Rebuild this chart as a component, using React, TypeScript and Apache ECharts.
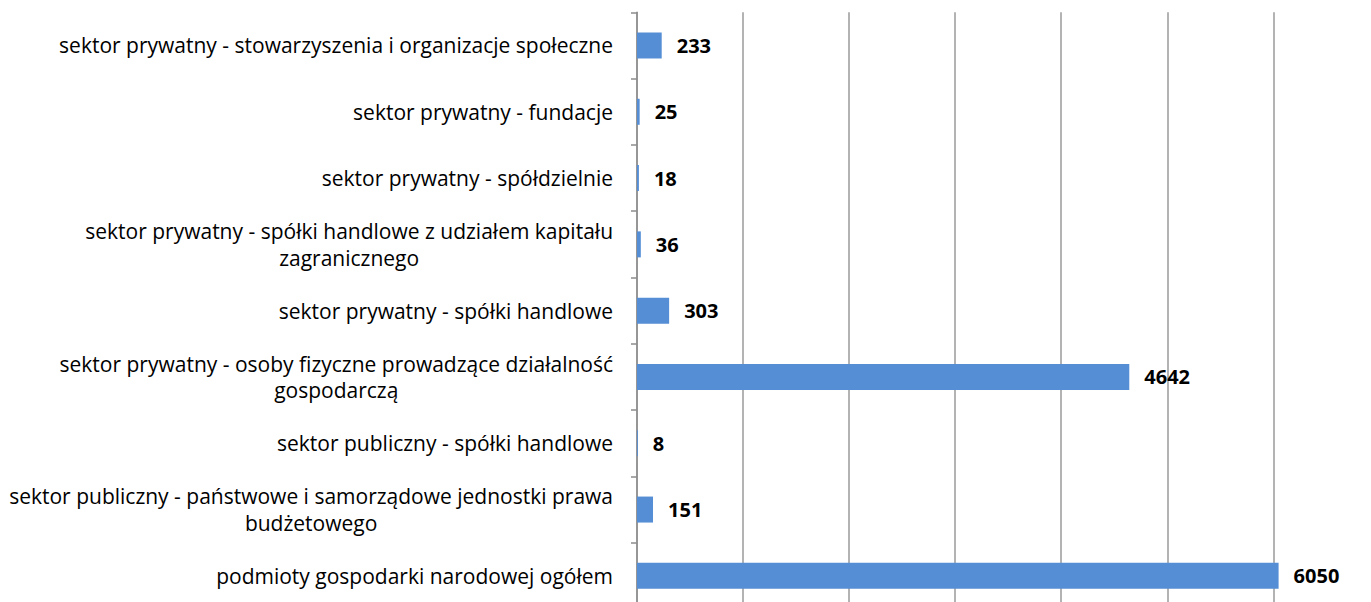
import React, { useEffect, useRef } from "react";
import * as echarts from "echarts";

const categories: string[] = [
  "sektor prywatny - stowarzyszenia i organizacje społeczne",
  "sektor prywatny - fundacje",
  "sektor prywatny - spółdzielnie",
  "sektor prywatny - spółki handlowe z udziałem kapitału\nzagranicznego",
  "sektor prywatny - spółki handlowe",
  "sektor prywatny - osoby fizyczne prowadzące działalność\ngospodarczą",
  "sektor publiczny - spółki handlowe",
  "sektor publiczny - państwowe i samorządowe jednostki prawa\nbudżetowego",
  "podmioty gospodarki narodowej ogółem",
];
const values: number[] = [233, 25, 18, 36, 303, 4642, 8, 151, 6050];

const FONT = "'Open Sans', Lato, sans-serif";

export default function App() {
  const ref = useRef<HTMLDivElement>(null);
  useEffect(() => {
    if (!ref.current) return;
    const chart = echarts.init(ref.current, undefined, { renderer: "svg" });
    chart.setOption({
      animation: false,
      backgroundColor: "#ffffff",
      grid: { left: 637, right: 97.7, top: 12.35, bottom: 11, containLabel: false },
      xAxis: {
        type: "value",
        min: 0,
        max: 6000,
        interval: 1000,
        axisLabel: { show: false },
        axisLine: { show: false },
        axisTick: { show: false },
        splitLine: { show: true, lineStyle: { color: "#9a9a9a", width: 1.5 } },
      },
      yAxis: {
        type: "category",
        inverse: true,
        data: categories,
        axisLine: { show: true, lineStyle: { color: "#8c8c8c", width: 1.5 } },
        axisTick: { show: true, length: 6, lineStyle: { color: "#8c8c8c", width: 1.5 } },
        axisLabel: {
          margin: 24,
          color: "#000000",
          fontFamily: FONT,
          fontSize: 21,
          lineHeight: 26.5,
          formatter: (v: string) =>
            v
              .split("\n")
              .map((l) => `{c|${l}}`)
              .join("\n"),
          rich: {
            c: { align: "center", fontFamily: FONT, fontSize: 21, lineHeight: 26.5, color: "#000" },
          },
        },
      },
      series: [
        {
          type: "bar",
          data: values,
          barWidth: 26,
          clip: false,
          itemStyle: { color: "#558ED5" },
          label: {
            show: true,
            position: "right",
            distance: 15,
            color: "#000",
            fontFamily: FONT,
            fontWeight: "bold",
            fontSize: 20,
          },
        },
      ],
    });
    return () => chart.dispose();
  }, []);
  return (
    <div
      ref={ref}
      style={{ position: "fixed", left: 0, top: 0, width: 1371, height: 620 }}
    />
  );
}
